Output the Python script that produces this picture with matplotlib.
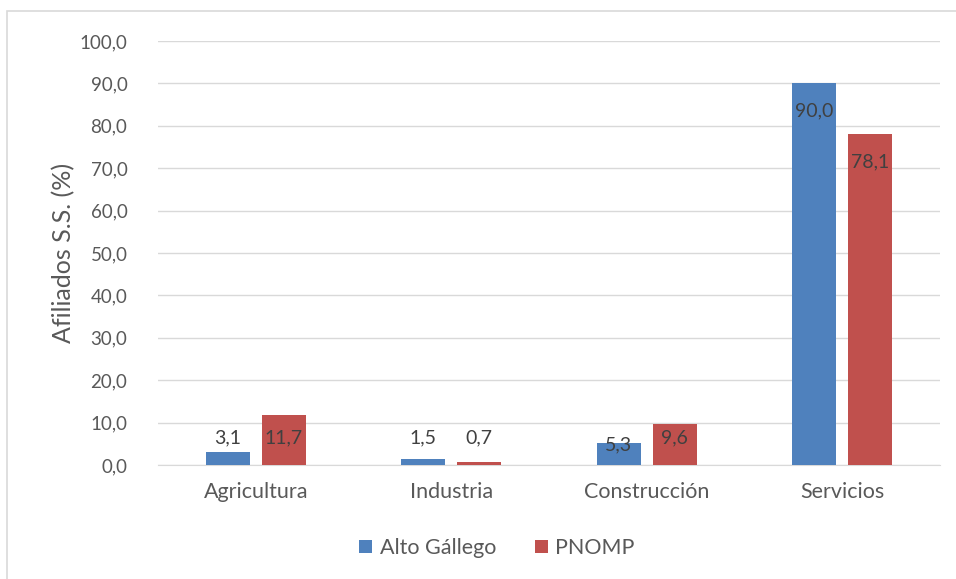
import numpy as np
import matplotlib
matplotlib.use("Agg")
import matplotlib.pyplot as plt
from matplotlib.patches import Rectangle

# data
categorias = ["Agricultura", "Industria", "Construcción", "Servicios"]
alto_gallego = [3.1, 1.5, 5.3, 90.0]
pnomp = [11.7, 0.7, 9.6, 78.1]
yticks = np.arange(0, 101, 10)

# label heights as placed in the original
label_y_ag = [6.4, 6.4, 4.7, 83.5]
label_y_pn = [6.4, 6.4, 6.4, 71.5]

plt.rcParams["font.family"] = ["Lato", "DejaVu Sans"]
txt = "#595959"

fig = plt.figure(figsize=(9.56, 5.79), dpi=100)
ax = fig.add_axes([158/956, 1 - 465/579, 782/956, 424/579])

x = np.arange(len(categorias))
w = 0.227
off = 0.143
ax.bar(x - off, alto_gallego, w, color="#4F81BD", label="Alto Gállego", zorder=3)
ax.bar(x + off, pnomp, w, color="#C0504D", label="PNOMP", zorder=3)

for i in range(len(categorias)):
    ax.text(x[i] - off, label_y_ag[i], f"{alto_gallego[i]:.1f}".replace(".", ","),
            ha="center", va="center", fontsize=14, color="#404040", zorder=4)
    ax.text(x[i] + off, label_y_pn[i], f"{pnomp[i]:.1f}".replace(".", ","),
            ha="center", va="center", fontsize=14, color="#404040", zorder=4)

ax.set_xlim(-0.5, len(categorias) - 0.5)
ax.set_ylim(0, 100)
ax.set_yticks(yticks)
ax.set_yticklabels([f"{v:.1f}".replace(".", ",") for v in yticks], fontsize=13.5, color=txt)
ax.set_xticks(x)
ax.set_xticklabels(categorias, fontsize=15.5, color=txt)
ax.tick_params(length=0)
ax.tick_params(axis="y", pad=22)
ax.tick_params(axis="x", pad=12)
ax.grid(axis="y", color="#D9D9D9", linewidth=1, zorder=0)
for s in ["top", "right", "left"]:
    ax.spines[s].set_visible(False)
ax.spines["bottom"].set_color("#D9D9D9")
ax.set_ylabel("Afiliados S.S. (%)", fontsize=18, color=txt, labelpad=3)

leg = fig.legend(loc="center", bbox_to_anchor=(497/956, 1 - 548/579), ncol=2,
                 frameon=False, fontsize=15.5, handlelength=0.6, handleheight=0.6,
                 columnspacing=1.8, handletextpad=0.35)
for t in leg.get_texts():
    t.set_color(txt)

fig.patches.append(Rectangle((7/956, -0.1), 1.1, 1 - 11/579 + 0.1, transform=fig.transFigure,
                             fill=False, edgecolor="#D9D9D9", linewidth=1.2))

fig.savefig("out.png", dpi=100, facecolor="white")
